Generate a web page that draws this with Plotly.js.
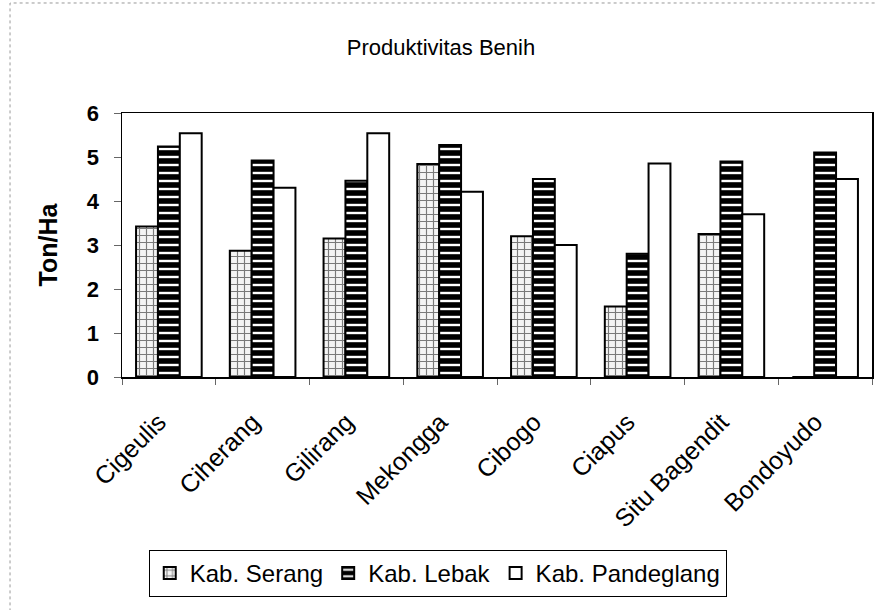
<!DOCTYPE html>
<html>
<head>
<meta charset="utf-8">
<script src="https://cdn.plot.ly/plotly-3.0.1.min.js"></script>
<style>
html,body{margin:0;padding:0;background:#fff;}
#chart{width:875px;height:610px;}
</style>
</head>
<body>
<div id="chart"></div>
<script>
const categories = ["Cigeulis","Ciherang","Gilirang","Mekongga","Cibogo","Ciapus","Situ Bagendit","Bondoyudo"];
const serang     = [3.42, 2.87, 3.15, 4.84, 3.2, 1.6, 3.25, 0];
const lebak      = [5.24, 4.92, 4.46, 5.27, 4.5, 2.8, 4.9, 5.1];
const pandeglang = [5.54, 4.30, 5.54, 4.21, 3.0, 4.85, 3.7, 4.5];
const seriesNames = ["Kab. Serang","Kab. Lebak","Kab. Pandeglang"];

const font = "Arial, 'Liberation Sans', sans-serif";

const traces = [
  {
    type: "bar", name: seriesNames[0], x: categories, y: serang,
    marker: {
      color: "#f2f2f2",
      line: {color: "#000", width: 2},
      pattern: {shape: "+", fgcolor: "#7a7a7a", bgcolor: "#f4f4f4", size: 7, solidity: 0.3}
    }
  },
  {
    type: "bar", name: seriesNames[1], x: categories, y: lebak,
    marker: {
      color: "#000",
      line: {color: "#000", width: 2},
      pattern: {shape: "-", fgcolor: "#ffffff", bgcolor: "#000000", size: 8, solidity: 0.3}
    }
  },
  {
    type: "bar", name: seriesNames[2], x: categories, y: pandeglang,
    marker: {color: "#ffffff", line: {color: "#000", width: 2}}
  }
];

const layout = {
  width: 875, height: 610,
  paper_bgcolor: "#fff", plot_bgcolor: "#fff",
  margin: {l: 122, r: 3, t: 113, b: 233},
  barmode: "group", bargap: 0.3, bargroupgap: 0,
  showlegend: true,
  font: {family: font, color: "#000"},
  title: {
    text: "Produktivitas Benih",
    font: {family: font, size: 22, color: "#000"},
    xref: "container", x: 0.504, xanchor: "center",
    yref: "container", y: 0.923, yanchor: "middle"
  },
  xaxis: {
    type: "category",
    tickangle: -45,
    tickfont: {family: font, size: 25, color: "#000"},
    ticks: "outside", tickson: "boundaries", ticklen: 6, tickcolor: "#666",
    ticklabelstandoff: 19, ticklabelshift: -10,
    showline: true, linecolor: "#000", linewidth: 1.5, mirror: true,
    showgrid: false, zeroline: false
  },
  yaxis: {
    range: [0, 6], dtick: 1,
    tickfont: {family: font, size: 22, color: "#000", weight: "bold"},
    ticks: "outside", ticklen: 7, tickcolor: "#666",
    ticklabelstandoff: 10,
    showline: true, linecolor: "#000", linewidth: 1.5, mirror: true,
    showgrid: false, zeroline: false,
    title: {text: "Ton/Ha", font: {family: font, size: 25, color: "#000", weight: "bold"}, standoff: 22}
  },
  legend: {
    orientation: "h",
    x: 0.421, xanchor: "center",
    y: -0.655, yanchor: "top",
    bordercolor: "#000", borderwidth: 1,
    font: {family: font, size: 24, color: "#000"},
    itemwidth: 30
  },
  shapes: [
    {type: "rect", xref: "paper", yref: "paper",
     x0: -0.1493, x1: 1.006, y0: -0.885, y1: 1.4167,
     line: {color: "#999", width: 1, dash: "dot"}, fillcolor: "rgba(0,0,0,0)", layer: "below"}
  ]
};

Plotly.newPlot("chart", traces, layout, {displayModeBar: false, staticPlot: true});
</script>
</body>
</html>
